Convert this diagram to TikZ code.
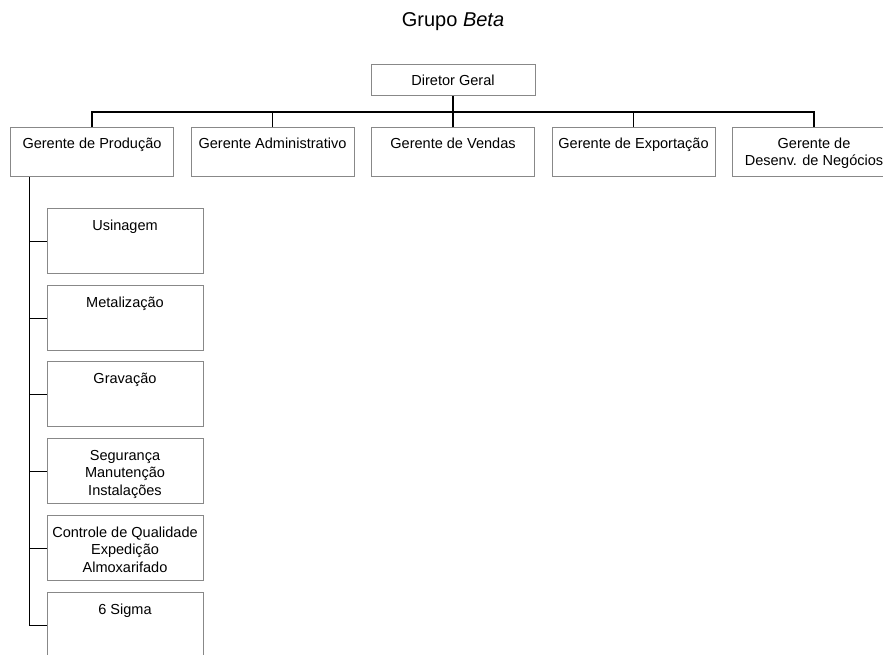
\documentclass[tikz,border=0pt]{standalone}
\usepackage{fontspec}
\setmainfont{Liberation Sans}
\usepackage{tikz}
\usetikzlibrary{calc}
\definecolor{boxgray}{RGB}{136,136,136}
\tikzstyle{titulo} = [inner sep=0pt, anchor=base, font=\fontsize{15}{18}\selectfont]
\tikzstyle{dirbox} = [draw=boxgray, line width=0.75pt, rectangle,
    inner sep=0pt, minimum width=123pt, minimum height=23.25pt]
\tikzstyle{gerbox} = [draw=boxgray, line width=0.75pt, rectangle, inner sep=0pt]
\tikzstyle{elo} = [draw=black, line width=1pt]
\newcommand{\gerlabel}[1]{\parbox[c][36.75pt][t]{122.25pt}{\vspace*{7.5pt}\centering #1}}
\newcommand{\setorlabel}[1]{\parbox[c][48.75pt][t]{117pt}{\vspace*{8.25pt}\centering #1}}

\begin{document}
\begin{tikzpicture}[x=0.75pt, y=-0.75pt, font=\fontsize{10.9}{13.1}\selectfont]
    \useasboundingbox (0,0) rectangle (883,655);
    \clip (0,0) rectangle (883,655);
    \node [titulo] (titulo) at (453,27) {Grupo \textit{Beta}};
    \node [dirbox] (diretor) at (453,80.5) {Diretor Geral};

    % gerentes
    \node [gerbox] (gprod) at (92,152.5) {\gerlabel{Gerente de Produção}};
    \node [gerbox] (gadm) at (272.5,152.5) {\gerlabel{Gerente Administrativo}};
    \node [gerbox] (gven) at (453,152.5) {\gerlabel{Gerente de Vendas}};
    \node [gerbox] (gexp) at (633.5,152.5) {\gerlabel{Gerente de Exportação}};
    \node [gerbox] (gdes) at (814,152.5) {\gerlabel{Gerente de\\Desenv. de Negócios}};

    % setores da producao
    \node [gerbox] (usin) at (125,241.5) {\setorlabel{Usinagem}};
    \node [gerbox] (metal) at (125,318.5) {\setorlabel{Metalização}};
    \node [gerbox] (grav) at (125,394.5) {\setorlabel{Gravação}};
    \node [gerbox] (seg) at (125,471.5) {\setorlabel{Segurança\\Manutenção\\Instalações}};
    \node [gerbox] (ctrl) at (125,548.5) {\setorlabel{Controle de Qualidade\\Expedição\\Almoxarifado}};
    \node [gerbox] (sigma) at (125,625.5) {\setorlabel{6 Sigma}};

    \coordinate (barra) at (453,112);
    \draw [elo] (diretor.south) -- (barra);
    \draw [elo] (gprod.north) -- (gprod.north |- barra) -- (gdes.north |- barra) -- (gdes.north);
    \foreach \g in {gadm,gven,gexp}
        \draw [elo] (\g.north) -- (\g.north |- barra);

    \coordinate (tronco) at ($(gprod.south west)+(19.5,0)$);
    \draw [elo] (tronco) |- (sigma.west);
    \foreach \s in {usin,metal,grav,seg,ctrl}
        \draw [elo] (tronco |- \s.west) -- (\s.west);
\end{tikzpicture}
\end{document}
